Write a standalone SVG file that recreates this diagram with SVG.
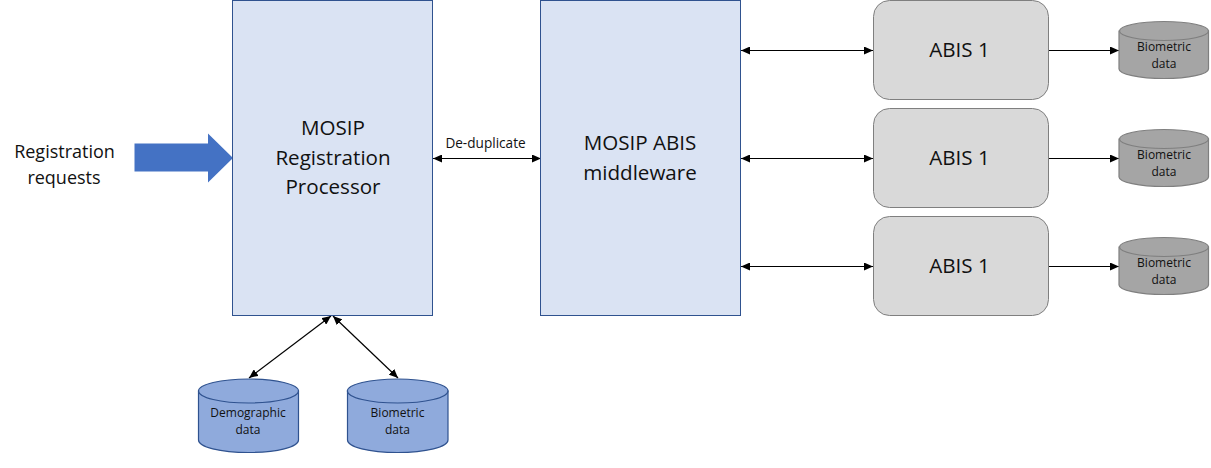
<svg xmlns="http://www.w3.org/2000/svg" width="1211" height="468" viewBox="0 0 1211 468">
<style>
text{font-family:"Open Sans","Liberation Sans",sans-serif;fill:#111;text-anchor:middle}
.big{font-size:20.600px}.mid{font-size:18px}.small{font-size:12px}.lab{font-size:13.600px}
.box{fill:#dae3f3;stroke:#2f528f;stroke-width:1}
.abis{fill:#d9d9d9;stroke:#7f7f7f;stroke-width:1}
.dbb{fill:#8faadc;stroke:#2f528f;stroke-width:1.2}
.dbg{fill:#a5a5a5;stroke:#7f7f7f;stroke-width:1.2}
.c{fill:none;stroke:#000;stroke-width:1.2;marker-end:url(#a)}
.d{fill:none;stroke:#000;stroke-width:1.2;marker-start:url(#s);marker-end:url(#a)}
</style>
<defs>
<marker id="a" markerUnits="userSpaceOnUse" markerWidth="9" markerHeight="8" refX="9" refY="4" orient="auto"><path d="M0 0L9 4L0 8z" fill="#000"/></marker>
<marker id="s" markerUnits="userSpaceOnUse" markerWidth="9" markerHeight="8" refX="0" refY="4" orient="auto"><path d="M9 0L0 4L9 8z" fill="#000"/></marker>
</defs>
<g id="connectors">
<path class="d" d="M433 158.500H541"/>
<path class="d" d="M741 50.500H873"/>
<path class="d" d="M741 158.500H873"/>
<path class="d" d="M741 266.500H873"/>
<path class="c" d="M1049 50.500H1119"/>
<path class="c" d="M1049 158.500H1119"/>
<path class="c" d="M1049 266.500H1119"/>
<path class="d" d="M331 316L249 378"/>
<path class="d" d="M333 316L398 378"/>
</g>
<g id="requests"><text class="mid" x="64.500" y="158">Registration</text><text class="mid" x="64" y="184">requests</text></g>
<g id="arrow"><path d="M134.500 143.500H208V133.500L233 158L208 182.500V171.500H134.500z" fill="#4472c4"/></g>
<g id="processor"><rect class="box" x="232.500" y="0.500" width="200" height="315"/><text class="big" x="333" y="135">MOSIP</text><text class="big" x="333" y="165">Registration</text><text class="big" x="333" y="194">Processor</text></g>
<g id="middleware"><rect class="box" x="540.500" y="0.500" width="200" height="315"/><text class="big" x="640" y="150">MOSIP ABIS</text><text class="big" x="640" y="180">middleware</text></g>
<text class="lab" x="485.500" y="148" id="dedup">De-duplicate</text>
<g id="abis1"><rect class="abis" x="873.500" y="0.500" width="175" height="99" rx="16"/><text class="big" x="959.500" y="57">ABIS 1</text></g>
<g id="abis2"><rect class="abis" x="873.500" y="108.500" width="175" height="99" rx="16"/><text class="big" x="959.500" y="165">ABIS 1</text></g>
<g id="abis3"><rect class="abis" x="873.500" y="216.500" width="175" height="99" rx="16"/><text class="big" x="959.500" y="273">ABIS 1</text></g>
<g id="db1"><path class="dbg" d="M1119 31V69C1119 74 1139 78.500 1164 78.500S1208.500 74 1208.500 69V31z"/><ellipse class="dbg" cx="1164" cy="31" rx="44.500" ry="9.500"/><text class="small" x="1164" y="51">Biometric</text><text class="small" x="1164" y="68">data</text></g>
<g id="db2"><path class="dbg" d="M1119 139V177C1119 182 1139 186.500 1164 186.500S1208.500 182 1208.500 177V139z"/><ellipse class="dbg" cx="1164" cy="139" rx="44.500" ry="9.500"/><text class="small" x="1164" y="159">Biometric</text><text class="small" x="1164" y="176">data</text></g>
<g id="db3"><path class="dbg" d="M1119 247V285C1119 290 1139 294.500 1164 294.500S1208.500 290 1208.500 285V247z"/><ellipse class="dbg" cx="1164" cy="247" rx="44.500" ry="9.500"/><text class="small" x="1164" y="267">Biometric</text><text class="small" x="1164" y="284">data</text></g>
<g id="demographic"><path class="dbb" d="M198.500 391V440C198.500 447 220 452.500 248.500 452.500S298.500 447 298.500 440V391z"/><ellipse class="dbb" cx="248.500" cy="391" rx="50" ry="12"/><text class="small" x="248" y="417">Demographic</text><text class="small" x="248" y="434">data</text></g>
<g id="biometric"><path class="dbb" d="M347.500 391V440C347.500 447 369 452.500 397.500 452.500S448 447 448 440V391z"/><ellipse class="dbb" cx="397.700" cy="391" rx="50.300" ry="12"/><text class="small" x="397.500" y="417">Biometric</text><text class="small" x="397.500" y="434">data</text></g>
</svg>
